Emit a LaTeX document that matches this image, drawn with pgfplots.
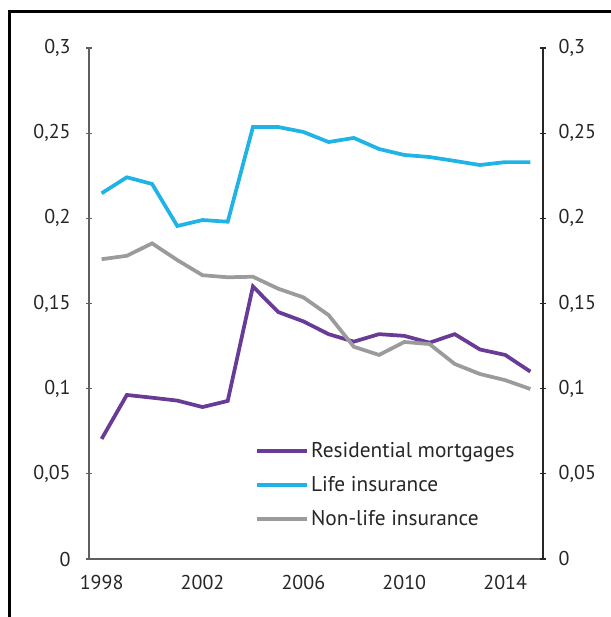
\documentclass[border=0pt]{standalone}
\usepackage{pgfplots}
\pgfplotsset{compat=1.18}
\usepackage{fontspec}
\setmainfont{PT Sans}
\definecolor{cpurple}{RGB}{104,60,150}
\definecolor{cblue}{RGB}{32,180,230}
\definecolor{cgray}{RGB}{155,155,155}
\definecolor{caxis}{RGB}{95,95,95}
\begin{document}
\begin{tikzpicture}
\useasboundingbox (-66.75pt,-43.5pt) rectangle (390.75pt,419.25pt);
\draw[line width=2.25pt] (-59.6pt,-50pt) -- (-59.6pt,410.25pt) -- (400pt,410.25pt);
\pgfplotsset{every axis/.style={
  scale only axis, width=340.5pt, height=383.25pt,
  xmin=1997.5, xmax=2015.5, ymin=0, ymax=0.3,
  at={(0,0)}, anchor=south west,
  tick align=outside, major tick length=4.5pt,
  ytick={0,0.05,0.1,0.15,0.2,0.25,0.3},
  yticklabels={0,{0,05},{0,1},{0,15},{0,2},{0,25},{0,3}},
  tick label style={font=\fontsize{15}{18}\selectfont, text=black!85},
  /pgf/number format/assume math mode=true,
}}
\begin{axis}[
  axis x line=bottom, axis y line=left,
  axis line style={caxis, line width=0.8pt, -},
  every tick/.style={caxis, line width=0.8pt},
  xtick={1998,2002,2006,2010,2014},
  xticklabels={1998,2002,2006,2010,2014},
  x tick style={draw=none},
  xtick style={draw=none},
  xticklabel style={yshift=-6.5pt},
  yticklabel style={xshift=-8pt},
  legend style={draw=none, fill=none, at={(axis cs:2003.9,0.0715)}, anchor=north west,
    font=\fontsize{16}{19}\selectfont, row sep=8.5pt, text=black!85},
  legend cell align=left,
  legend image code/.code={\draw[#1] (0pt,0pt) -- (37.5pt,0pt);},
]
\addplot[cpurple, line width=2.8pt] coordinates {
(1998,0.0705)(1999,0.0963)(2000,0.0947)(2001,0.0930)(2002,0.0892)(2003,0.0928)
(2004,0.1600)(2005,0.1450)(2006,0.1395)(2007,0.1320)(2008,0.1276)(2009,0.1320)
(2010,0.1310)(2011,0.1270)(2012,0.1320)(2013,0.1230)(2014,0.1198)(2015,0.1100)};
\addlegendentry{Residential mortgages}
\addplot[cblue, line width=2.8pt] coordinates {
(1998,0.2147)(1999,0.2241)(2000,0.2202)(2001,0.1955)(2002,0.1990)(2003,0.1980)
(2004,0.2536)(2005,0.2536)(2006,0.2507)(2007,0.2448)(2008,0.2472)(2009,0.2407)
(2010,0.2372)(2011,0.2360)(2012,0.2337)(2013,0.2313)(2014,0.2330)(2015,0.2330)};
\addlegendentry{Life insurance}
\addplot[cgray, line width=2.8pt] coordinates {
(1998,0.1760)(1999,0.1780)(2000,0.1853)(2001,0.1755)(2002,0.1666)(2003,0.1654)
(2004,0.1657)(2005,0.1587)(2006,0.1536)(2007,0.1432)(2008,0.1246)(2009,0.1198)
(2010,0.1274)(2011,0.1262)(2012,0.1145)(2013,0.1086)(2014,0.1050)(2015,0.0998)};
\addlegendentry{Non-life insurance}
\end{axis}
\begin{axis}[
  axis x line=none, axis y line=right,
  axis line style={black!85, line width=0.8pt, -},
  every tick/.style={black!85, line width=0.8pt},
  yticklabel style={xshift=6pt},
]
\end{axis}
\end{tikzpicture}
\end{document}
